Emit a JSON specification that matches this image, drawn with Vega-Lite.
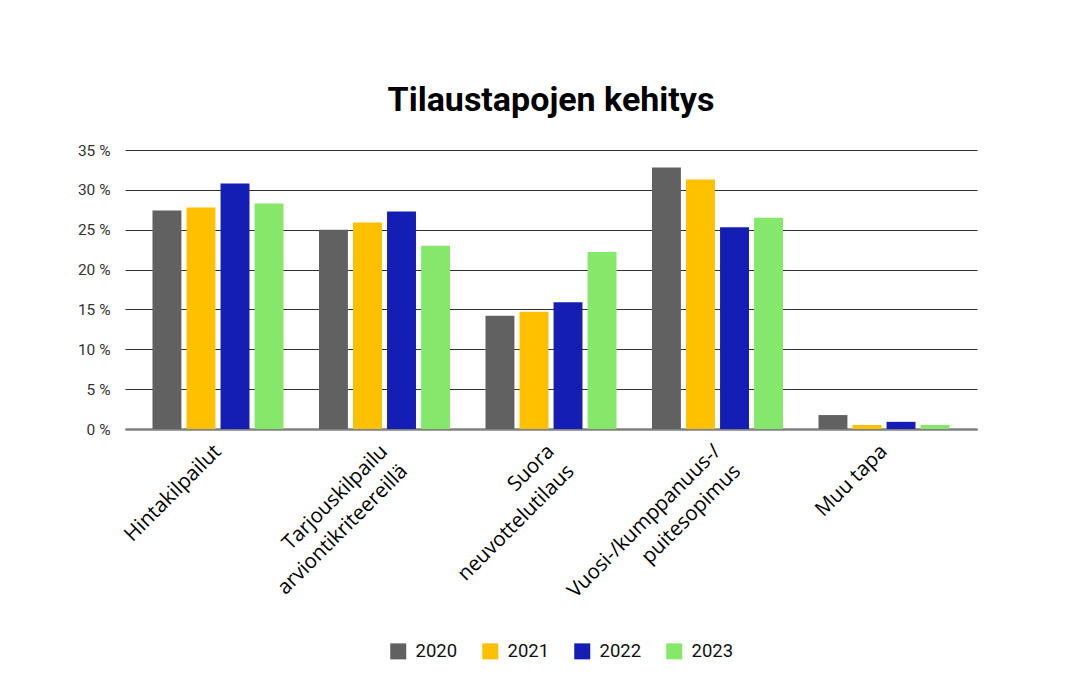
{
  "$schema": "https://vega.github.io/schema/vega-lite/v6.json",
  "autosize": {"type": "none"},
  "width": 852,
  "height": 279,
  "padding": {"left": 125, "top": 150, "right": 95, "bottom": 253},
  "background": "white",
  "title": {
    "text": "Tilaustapojen kehitys",
    "font": "Roboto",
    "fontSize": 34,
    "fontWeight": "bold",
    "color": "#000000",
    "anchor": "middle",
    "offset": 25
  },
  "data": {
    "values": [
      {"category": "Hintakilpailut", "year": "2020", "value": 27.4},
      {"category": "Hintakilpailut", "year": "2021", "value": 27.8},
      {"category": "Hintakilpailut", "year": "2022", "value": 30.8},
      {"category": "Hintakilpailut", "year": "2023", "value": 28.3},
      {"category": "Tarjouskilpailu|arviontikriteereillä", "year": "2020", "value": 25.0},
      {"category": "Tarjouskilpailu|arviontikriteereillä", "year": "2021", "value": 25.9},
      {"category": "Tarjouskilpailu|arviontikriteereillä", "year": "2022", "value": 27.3},
      {"category": "Tarjouskilpailu|arviontikriteereillä", "year": "2023", "value": 23.0},
      {"category": "Suora|neuvottelutilaus", "year": "2020", "value": 14.2},
      {"category": "Suora|neuvottelutilaus", "year": "2021", "value": 14.7},
      {"category": "Suora|neuvottelutilaus", "year": "2022", "value": 15.9},
      {"category": "Suora|neuvottelutilaus", "year": "2023", "value": 22.2},
      {"category": "Vuosi-/kumppanuus-/|puitesopimus", "year": "2020", "value": 32.8},
      {"category": "Vuosi-/kumppanuus-/|puitesopimus", "year": "2021", "value": 31.3},
      {"category": "Vuosi-/kumppanuus-/|puitesopimus", "year": "2022", "value": 25.3},
      {"category": "Vuosi-/kumppanuus-/|puitesopimus", "year": "2023", "value": 26.5},
      {"category": "Muu tapa", "year": "2020", "value": 1.75},
      {"category": "Muu tapa", "year": "2021", "value": 0.5},
      {"category": "Muu tapa", "year": "2022", "value": 0.9},
      {"category": "Muu tapa", "year": "2023", "value": 0.5}
    ]
  },
  "mark": {"type": "bar"},
  "encoding": {
    "x": {
      "field": "category",
      "type": "nominal",
      "sort": null,
      "title": null,
      "scale": {"paddingInner": 0.213, "paddingOuter": 0.165},
      "axis": {
        "labelExpr": "split(datum.label, '|')",
        "labelAngle": -45,
        "labelAlign": "right",
        "labelBaseline": "middle",
        "labelFont": "Open Sans",
        "labelFontSize": 20.5,
        "labelColor": "#000000",
        "labelLineHeight": 28,
        "labelPadding": 19,
        "ticks": false,
        "domainColor": "#808080",
        "domainWidth": 2.5,
        "labelLimit": 400
      }
    },
    "xOffset": {
      "field": "year",
      "type": "nominal",
      "scale": {"paddingInner": 0.15}
    },
    "y": {
      "field": "value",
      "type": "quantitative",
      "title": null,
      "scale": {"domain": [0, 35], "nice": false},
      "axis": {
        "values": [0, 5, 10, 15, 20, 25, 30, 35],
        "labelExpr": "datum.value + ' %'",
        "labelFont": "Roboto",
        "labelFontSize": 15.5,
        "labelColor": "#333333",
        "labelPadding": 15,
        "ticks": false,
        "domain": false,
        "gridColor": "#333333",
        "gridWidth": 1.2,
        "gridOpacity": 1
      }
    },
    "color": {
      "field": "year",
      "type": "nominal",
      "title": null,
      "scale": {
        "domain": ["2020", "2021", "2022", "2023"],
        "range": ["#616161", "#FFC000", "#141EB4", "#86E86A"]
      },
      "legend": {
        "orient": "none",
        "direction": "horizontal",
        "legendX": 264,
        "legendY": 492,
        "symbolType": "square",
        "symbolSize": 256,
        "symbolStrokeWidth": 0,
        "symbolOpacity": 1,
        "labelFont": "Roboto",
        "labelFontSize": 18.5,
        "labelColor": "#111111",
        "labelOffset": 8,
        "columnPadding": 23
      }
    }
  },
  "config": {
    "view": {"stroke": null}
  }
}
